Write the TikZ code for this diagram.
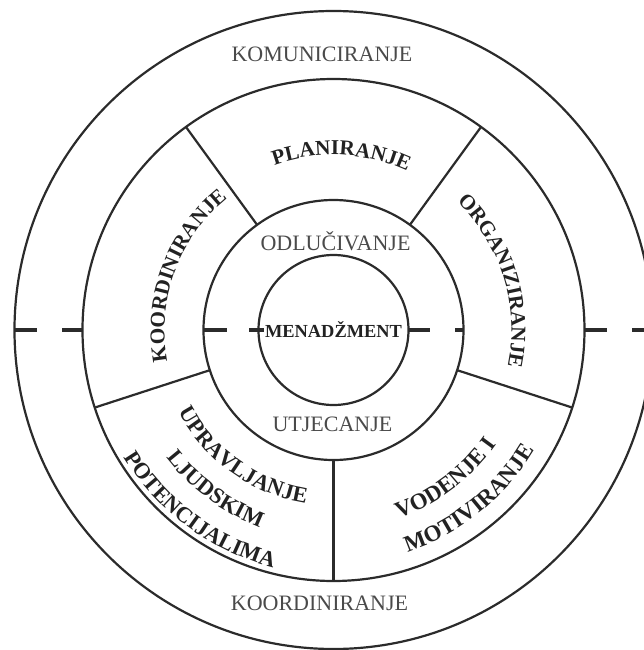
\documentclass[tikz,border=0pt]{standalone}
\usepackage{fontspec}
\setmainfont{Liberation Serif}
\usetikzlibrary{decorations.text}
\definecolor{cline}{HTML}{2B2B2B}
\definecolor{cink}{HTML}{222222}
\definecolor{cgrey}{HTML}{4A4A4A}
\newcommand\sectfont{\fontsize{10.6}{12}\selectfont\bfseries}
\newcommand\lowleftfont{\fontsize{11.2}{13}\selectfont\bfseries}
\newcommand\lowrightfont{\fontsize{11.5}{13}\selectfont\bfseries}
\tikzset{
  every picture/.style={line width=1pt},
  ring/.style={draw=cline, line width=1.1pt},
  cut/.style={draw=cline, line width=1.8pt, dash pattern=on 11.5pt off 12.5pt},
  word/.style={font=\fontsize{11}{13}\selectfont, text=cgrey, inner sep=1pt},
  arctext/.style={decorate, decoration={text along path, text align=center, text color=cink, text={#1}}},
}

\begin{document}
\begin{tikzpicture}[x=0.5pt, y=0.5pt]
  \useasboundingbox (-333.5,-320) rectangle (310.5,330);
  % rings and sector borders
  \foreach \r in {319,251,130,75} \draw[ring] (0,0) circle[radius=\r];
  \foreach \a in {126,54,-18,-90,-162} \draw[ring] (\a:130) -- (\a:251);
  % dashed axis
  \draw[cut] (180:319) -- (180:251); \draw[cut] (0:251) -- (0:319);
  \draw[cut, dash pattern=on 12pt off 11pt] (180:130) -- (180:69);
  \draw[cut, dash pattern=on 11pt off 12.5pt] (0:75) -- (0:130);
  % straight labels
  \node[word] (komun) at (-11.5,276) {KOMUNICIRANJE};
  \node[word] (koordout) at (-14,-273.5) {KOORDINIRANJE};
  \node[word] (odluc) at (2,89) {ODLUČIVANJE};
  \node[word] (utjec) at (-1,-94) {UTJECANJE};
  \node[word, font=\fontsize{9.2}{11}\selectfont\bfseries, text=cink] (menad) at (0,0) {MENADŽMENT};
  % curved sector labels
  \path[arctext={|\sectfont|PLANIRANJE}] (132.4:175) arc[start angle=132.4, end angle=42.4, radius=175];
  \path[arctext={|\sectfont|KOORDINIRANJE}] (204.7:169) arc[start angle=204.7, end angle=114.7, radius=169];
  \path[arctext={|\sectfont|ORGANIZIRANJE}] (62.1:178) arc[start angle=62.1, end angle=-27.9, radius=178];
  \path[arctext={|\lowleftfont|UPRAVLJANJE}] (189.4:175.5) arc[start angle=189.4, end angle=279.4, radius=175.5];
  \path[arctext={|\lowleftfont|LJUDSKIM}] (188.5:210.5) arc[start angle=188.5, end angle=278.5, radius=210.5];
  \path[arctext={|\lowleftfont|POTENCIJALIMA}] (188.5:245) arc[start angle=188.5, end angle=278.5, radius=245];
  \path[arctext={|\lowrightfont|VODENJE I}] (-98:199) arc[start angle=-98, end angle=-8, radius=199];
  \path[arctext={|\lowrightfont|MOTIVIRANJE}] (-96.2:234) arc[start angle=-96.2, end angle=-6.2, radius=234];
\end{tikzpicture}
\end{document}
